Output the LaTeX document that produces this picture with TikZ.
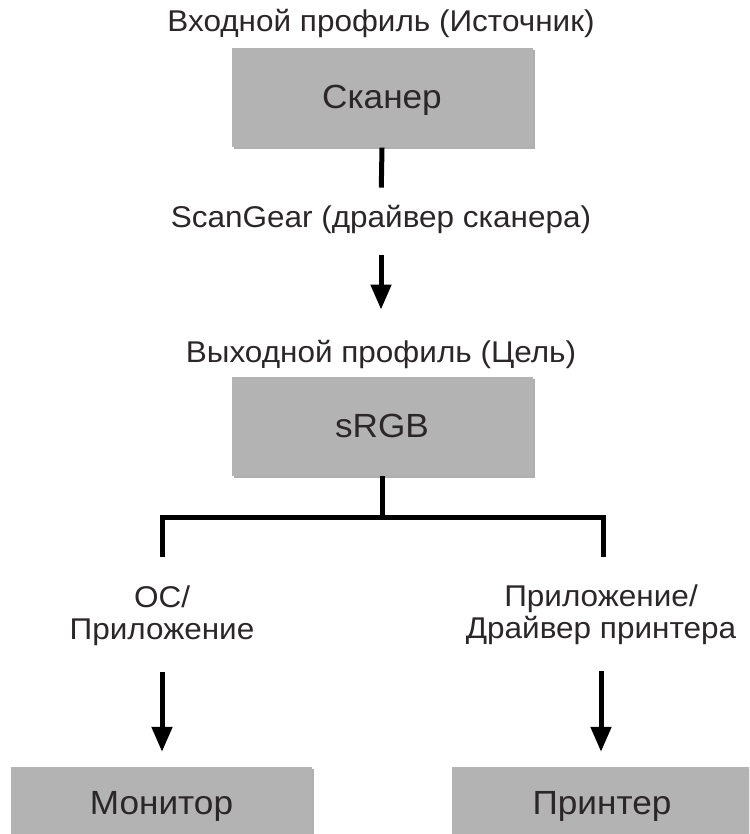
\documentclass[tikz,border=0pt]{standalone}
\usepackage{fontspec}
\setmainfont{Liberation Sans}[FakeStretch=1.05]
\usetikzlibrary{arrows.meta,shadows}
\definecolor{BoxGray}{HTML}{B3B3B3}
\definecolor{InkDark}{HTML}{2B2627}
\definecolor{ShadowGray}{HTML}{7A7A7A}

\begin{document}
\begin{tikzpicture}[x=1pt,y=-1pt,
    every node/.style={text=InkDark},
    device/.style={fill=BoxGray, draw=none, minimum width=301pt, minimum height=99pt,
      inner sep=0pt, text height=21pt, text depth=0pt, font=\fontsize{33.5}{38}\selectfont,
      drop shadow={shadow xshift=2pt, shadow yshift=-2pt, fill=ShadowGray, opacity=0.6}},
    caption/.style={inner sep=3pt, align=center, font=\fontsize{30}{32}\selectfont},
    link/.style={line width=5pt},
    flow/.style={line width=5pt, -{Triangle[width=20pt,length=25pt]}}]
  \useasboundingbox (0,0) rectangle (749,834);
  \clip (0,0) rectangle (749,834);
  % source side
  \node[caption, anchor=base] (srclabel) at (381,32) {Входной профиль (Источник)};
  \node[device] (scanner) at (382,98) {Сканер};
  \node[caption, anchor=base] (driver) at (381,228) {ScanGear (драйвер сканера)};
  % target side
  \node[caption, anchor=base] (dstlabel) at (381,362) {Выходной профиль (Цель)};
  \node[device] (srgb) at (382,426.5) {sRGB};
  \coordinate (fork) at (382,517);
  \coordinate (osend) at (162,557);
  \coordinate (append) at (603,557);
  % output devices
  \node[caption] (oslabel) at (162,616) {ОС/\\Приложение};
  \node[caption] (applabel) at (601,615) {Приложение/\\Драйвер принтера};
  \node[device, minimum height=74pt] (monitor) at (161.5,804) {Монитор};
  \node[device, minimum height=74pt] (printer) at (602,804) {Принтер};
  % connectors
  \draw[link, shorten >=15pt] (scanner.south) -- (driver.north);
  \draw[flow, shorten <=18pt, shorten >=27pt] (driver.south) -- (dstlabel.north);
  \draw[link] (srgb.south) -- (fork);
  \draw[link] (osend) |- (fork) -| (append);
  \draw[flow, shorten <=23pt, shorten >=15pt] (oslabel.south) -- (oslabel.south |- monitor.north);
  \draw[flow, shorten <=23pt, shorten >=15pt] (applabel.south) -- (applabel.south |- printer.north);
\end{tikzpicture}
\end{document}
